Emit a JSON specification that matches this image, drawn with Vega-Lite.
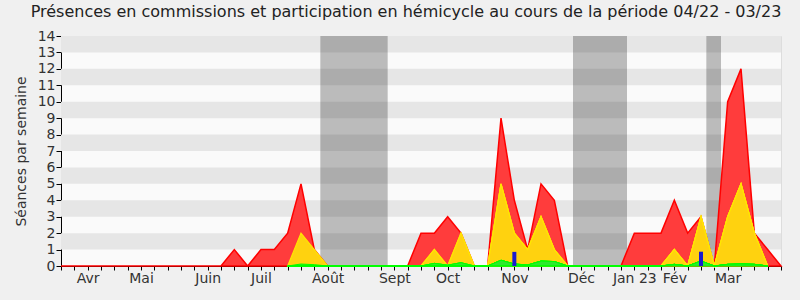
{
  "$schema": "https://vega.github.io/schema/vega-lite/v6.json",
  "width": 720,
  "height": 230,
  "autosize": {"type": "none"},
  "padding": {"left": 61, "top": 36, "right": 19, "bottom": 34},
  "background": "#F0F0F0",
  "config": {"view": {"fill": "#FAFAFA", "stroke": "#DDDDDD"}, "font": "DejaVu Sans"},
  "title": {"text": "Présences en commissions et participation en hémicycle au cours de la période 04/22 - 03/23", "fontSize": 16, "fontWeight": "normal", "color": "#222222", "anchor": "middle", "dx": -15, "offset": 9},
  "datasets": {
    "stripes": [{"lo": 1, "hi": 2}, {"lo": 3, "hi": 4}, {"lo": 5, "hi": 6}, {"lo": 7, "hi": 8}, {"lo": 9, "hi": 10}, {"lo": 11, "hi": 12}, {"lo": 13, "hi": 14}],
    "vacances": [{"a": 19.45, "b": 24.5}, {"a": 38.4, "b": 42.45}, {"a": 48.4, "b": 49.5}],
    "rouge": [
      {"w": 0, "v": 0}, {"w": 1, "v": 0}, {"w": 2, "v": 0}, {"w": 3, "v": 0}, {"w": 4, "v": 0}, {"w": 5, "v": 0}, {"w": 6, "v": 0}, {"w": 7, "v": 0}, {"w": 8, "v": 0}, {"w": 9, "v": 0}, {"w": 10, "v": 0}, {"w": 11, "v": 0}, {"w": 12, "v": 0},
      {"w": 13, "v": 1}, {"w": 14, "v": 0}, {"w": 15, "v": 1}, {"w": 16, "v": 1}, {"w": 17, "v": 2}, {"w": 18, "v": 5}, {"w": 19, "v": 1},
      {"w": 20, "v": 0}, {"w": 21, "v": 0}, {"w": 22, "v": 0}, {"w": 23, "v": 0}, {"w": 24, "v": 0}, {"w": 25, "v": 0}, {"w": 26, "v": 0},
      {"w": 27, "v": 2}, {"w": 28, "v": 2}, {"w": 29, "v": 3}, {"w": 30, "v": 2}, {"w": 31, "v": 0}, {"w": 32, "v": 0},
      {"w": 33, "v": 9}, {"w": 34, "v": 4}, {"w": 35, "v": 1}, {"w": 36, "v": 5}, {"w": 37, "v": 4},
      {"w": 38, "v": 0}, {"w": 39, "v": 0}, {"w": 40, "v": 0}, {"w": 41, "v": 0}, {"w": 42, "v": 0},
      {"w": 43, "v": 2}, {"w": 44, "v": 2}, {"w": 45, "v": 2}, {"w": 46, "v": 4}, {"w": 47, "v": 2}, {"w": 48, "v": 3}, {"w": 49, "v": 0},
      {"w": 50, "v": 10}, {"w": 51, "v": 12}, {"w": 52, "v": 2}, {"w": 53, "v": 1}, {"w": 54, "v": 0}
    ],
    "jaune": [
      {"s": "a", "w": 17, "v": 0}, {"s": "a", "w": 18, "v": 2}, {"s": "a", "w": 19, "v": 1}, {"s": "a", "w": 20, "v": 0},
      {"s": "b", "w": 27, "v": 0}, {"s": "b", "w": 28, "v": 1}, {"s": "b", "w": 29, "v": 0}, {"s": "b", "w": 30, "v": 2}, {"s": "b", "w": 31, "v": 0},
      {"s": "c", "w": 32, "v": 0}, {"s": "c", "w": 33, "v": 5}, {"s": "c", "w": 34, "v": 2}, {"s": "c", "w": 35, "v": 1}, {"s": "c", "w": 36, "v": 3}, {"s": "c", "w": 37, "v": 1}, {"s": "c", "w": 38, "v": 0},
      {"s": "d", "w": 45, "v": 0}, {"s": "d", "w": 46, "v": 1}, {"s": "d", "w": 47, "v": 0}, {"s": "d", "w": 48, "v": 3}, {"s": "d", "w": 49, "v": 0}, {"s": "d", "w": 50, "v": 3}, {"s": "d", "w": 51, "v": 5}, {"s": "d", "w": 52, "v": 2}, {"s": "d", "w": 53, "v": 0}
    ],
    "vert": [
      {"s": "a", "w": 17, "v": 0}, {"s": "a", "w": 18, "v": 0.12}, {"s": "a", "w": 19, "v": 0.08}, {"s": "a", "w": 20, "v": 0},
      {"s": "b", "w": 27, "v": 0}, {"s": "b", "w": 28, "v": 0.16}, {"s": "b", "w": 29, "v": 0.05}, {"s": "b", "w": 30, "v": 0.2}, {"s": "b", "w": 31, "v": 0},
      {"s": "c", "w": 32, "v": 0}, {"s": "c", "w": 33, "v": 0.35}, {"s": "c", "w": 34, "v": 0.12}, {"s": "c", "w": 35, "v": 0.06}, {"s": "c", "w": 36, "v": 0.3}, {"s": "c", "w": 37, "v": 0.27}, {"s": "c", "w": 38, "v": 0},
      {"s": "d", "w": 45, "v": 0}, {"s": "d", "w": 46, "v": 0.1}, {"s": "d", "w": 47, "v": 0}, {"s": "d", "w": 48, "v": 0.3}, {"s": "d", "w": 49, "v": 0}, {"s": "d", "w": 50, "v": 0.1}, {"s": "d", "w": 51, "v": 0.12}, {"s": "d", "w": 52, "v": 0.1}, {"s": "d", "w": 53, "v": 0}
    ],
    "bleu": [{"w": 34, "v": 0.86}, {"w": 48, "v": 0.87}]
  },
  "layer": [
    {
      "data": {"name": "stripes"},
      "mark": {"type": "rect", "color": "#E6E6E6"},
      "encoding": {
        "y": {"field": "lo", "type": "quantitative", "scale": {"domain": [0, 14], "nice": false, "zero": true}, "title": "Séances par semaine",
          "axis": {"values": [0, 1, 2, 3, 4, 5, 6, 7, 8, 9, 10, 11, 12, 13, 14], "grid": false, "domainColor": "#000000", "tickColor": "#000000", "tickSize": 5, "labelFontSize": 14, "labelColor": "#333333", "labelPadding": 1, "labelOverlap": false, "labelFlush": false, "titleFontSize": 14, "titleFontWeight": "normal", "titleColor": "#333333", "titlePadding": 9}},
        "y2": {"field": "hi"}
      }
    },
    {
      "data": {"name": "vacances"},
      "mark": {"type": "rect", "color": "#000000", "opacity": 0.25},
      "encoding": {
        "x": {"field": "a", "type": "quantitative", "scale": {"domain": [0, 54], "nice": false, "zero": false, "padding": 0}, "title": null,
          "axis": {"values": [0, 1, 2, 3, 4, 5, 6, 7, 8, 9, 10, 11, 12, 13, 14, 15, 16, 17, 18, 19, 20, 21, 22, 23, 24, 25, 26, 27, 28, 29, 30, 31, 32, 33, 34, 35, 36, 37, 38, 39, 40, 41, 42, 43, 44, 45, 46, 47, 48, 49, 50, 51, 52, 53, 54],
            "labelExpr": "datum.value==2?'Avr':datum.value==6?'Mai':datum.value==11?'Juin':datum.value==15?'Juil':datum.value==20?'Août':datum.value==25?'Sept':datum.value==29?'Oct':datum.value==34?'Nov':datum.value==39?'Déc':datum.value==43?'Jan 23':datum.value==46?'Fév':datum.value==50?'Mar':''",
            "grid": false, "domainColor": "#000000", "tickColor": "#000000", "tickSize": 4, "labelFontSize": 14, "labelColor": "#333333", "labelPadding": 1, "labelOverlap": false, "labelFlush": false}},
        "x2": {"field": "b"}
      }
    },
    {
      "data": {"name": "rouge"},
      "mark": {"type": "area", "color": "#FF3C3C", "stroke": "#FF0000", "strokeWidth": 1.5, "opacity": 1},
      "encoding": {
        "x": {"field": "w", "type": "quantitative", "title": null,
          "axis": {"values": [0, 1, 2, 3, 4, 5, 6, 7, 8, 9, 10, 11, 12, 13, 14, 15, 16, 17, 18, 19, 20, 21, 22, 23, 24, 25, 26, 27, 28, 29, 30, 31, 32, 33, 34, 35, 36, 37, 38, 39, 40, 41, 42, 43, 44, 45, 46, 47, 48, 49, 50, 51, 52, 53, 54],
            "labelExpr": "datum.value==2?'Avr':datum.value==6?'Mai':datum.value==11?'Juin':datum.value==15?'Juil':datum.value==20?'Août':datum.value==25?'Sept':datum.value==29?'Oct':datum.value==34?'Nov':datum.value==39?'Déc':datum.value==43?'Jan 23':datum.value==46?'Fév':datum.value==50?'Mar':''",
            "grid": false, "domainColor": "#000000", "tickColor": "#000000", "tickSize": 4, "labelFontSize": 14, "labelColor": "#333333", "labelPadding": 1, "labelOverlap": false, "labelFlush": false}},
        "y": {"field": "v", "type": "quantitative", "title": "Séances par semaine",
          "axis": {"values": [0, 1, 2, 3, 4, 5, 6, 7, 8, 9, 10, 11, 12, 13, 14], "grid": false, "domainColor": "#000000", "tickColor": "#000000", "tickSize": 5, "labelFontSize": 14, "labelColor": "#333333", "labelPadding": 1, "labelOverlap": false, "labelFlush": false, "titleFontSize": 14, "titleFontWeight": "normal", "titleColor": "#333333", "titlePadding": 9}}
      }
    },
    {
      "data": {"name": "jaune"},
      "mark": {"type": "area", "color": "#FFD20F", "stroke": "#FFE600", "strokeWidth": 1.2, "opacity": 1},
      "encoding": {
        "x": {"field": "w", "type": "quantitative", "title": null,
          "axis": {"values": [0, 1, 2, 3, 4, 5, 6, 7, 8, 9, 10, 11, 12, 13, 14, 15, 16, 17, 18, 19, 20, 21, 22, 23, 24, 25, 26, 27, 28, 29, 30, 31, 32, 33, 34, 35, 36, 37, 38, 39, 40, 41, 42, 43, 44, 45, 46, 47, 48, 49, 50, 51, 52, 53, 54],
            "labelExpr": "datum.value==2?'Avr':datum.value==6?'Mai':datum.value==11?'Juin':datum.value==15?'Juil':datum.value==20?'Août':datum.value==25?'Sept':datum.value==29?'Oct':datum.value==34?'Nov':datum.value==39?'Déc':datum.value==43?'Jan 23':datum.value==46?'Fév':datum.value==50?'Mar':''",
            "grid": false, "domainColor": "#000000", "tickColor": "#000000", "tickSize": 4, "labelFontSize": 14, "labelColor": "#333333", "labelPadding": 1, "labelOverlap": false, "labelFlush": false}},
        "y": {"field": "v", "type": "quantitative", "title": "Séances par semaine",
          "axis": {"values": [0, 1, 2, 3, 4, 5, 6, 7, 8, 9, 10, 11, 12, 13, 14], "grid": false, "domainColor": "#000000", "tickColor": "#000000", "tickSize": 5, "labelFontSize": 14, "labelColor": "#333333", "labelPadding": 1, "labelOverlap": false, "labelFlush": false, "titleFontSize": 14, "titleFontWeight": "normal", "titleColor": "#333333", "titlePadding": 9}},
        "detail": {"field": "s"}
      }
    },
    {
      "data": {"name": "vert"},
      "mark": {"type": "area", "color": "#2EE82E", "stroke": "#00FF00", "strokeWidth": 1, "opacity": 1},
      "encoding": {
        "x": {"field": "w", "type": "quantitative", "title": null,
          "axis": {"values": [0, 1, 2, 3, 4, 5, 6, 7, 8, 9, 10, 11, 12, 13, 14, 15, 16, 17, 18, 19, 20, 21, 22, 23, 24, 25, 26, 27, 28, 29, 30, 31, 32, 33, 34, 35, 36, 37, 38, 39, 40, 41, 42, 43, 44, 45, 46, 47, 48, 49, 50, 51, 52, 53, 54],
            "labelExpr": "datum.value==2?'Avr':datum.value==6?'Mai':datum.value==11?'Juin':datum.value==15?'Juil':datum.value==20?'Août':datum.value==25?'Sept':datum.value==29?'Oct':datum.value==34?'Nov':datum.value==39?'Déc':datum.value==43?'Jan 23':datum.value==46?'Fév':datum.value==50?'Mar':''",
            "grid": false, "domainColor": "#000000", "tickColor": "#000000", "tickSize": 4, "labelFontSize": 14, "labelColor": "#333333", "labelPadding": 1, "labelOverlap": false, "labelFlush": false}},
        "y": {"field": "v", "type": "quantitative", "title": "Séances par semaine",
          "axis": {"values": [0, 1, 2, 3, 4, 5, 6, 7, 8, 9, 10, 11, 12, 13, 14], "grid": false, "domainColor": "#000000", "tickColor": "#000000", "tickSize": 5, "labelFontSize": 14, "labelColor": "#333333", "labelPadding": 1, "labelOverlap": false, "labelFlush": false, "titleFontSize": 14, "titleFontWeight": "normal", "titleColor": "#333333", "titlePadding": 9}},
        "detail": {"field": "s"}
      }
    },
    {
      "data": {"name": "bleu"},
      "mark": {"type": "bar", "color": "#1A1ACF", "size": 4},
      "encoding": {
        "x": {"field": "w", "type": "quantitative", "title": null,
          "axis": {"values": [0, 1, 2, 3, 4, 5, 6, 7, 8, 9, 10, 11, 12, 13, 14, 15, 16, 17, 18, 19, 20, 21, 22, 23, 24, 25, 26, 27, 28, 29, 30, 31, 32, 33, 34, 35, 36, 37, 38, 39, 40, 41, 42, 43, 44, 45, 46, 47, 48, 49, 50, 51, 52, 53, 54],
            "labelExpr": "datum.value==2?'Avr':datum.value==6?'Mai':datum.value==11?'Juin':datum.value==15?'Juil':datum.value==20?'Août':datum.value==25?'Sept':datum.value==29?'Oct':datum.value==34?'Nov':datum.value==39?'Déc':datum.value==43?'Jan 23':datum.value==46?'Fév':datum.value==50?'Mar':''",
            "grid": false, "domainColor": "#000000", "tickColor": "#000000", "tickSize": 4, "labelFontSize": 14, "labelColor": "#333333", "labelPadding": 1, "labelOverlap": false, "labelFlush": false}},
        "y": {"field": "v", "type": "quantitative", "title": "Séances par semaine",
          "axis": {"values": [0, 1, 2, 3, 4, 5, 6, 7, 8, 9, 10, 11, 12, 13, 14], "grid": false, "domainColor": "#000000", "tickColor": "#000000", "tickSize": 5, "labelFontSize": 14, "labelColor": "#333333", "labelPadding": 1, "labelOverlap": false, "labelFlush": false, "titleFontSize": 14, "titleFontWeight": "normal", "titleColor": "#333333", "titlePadding": 9}}
      }
    }
  ]
}
